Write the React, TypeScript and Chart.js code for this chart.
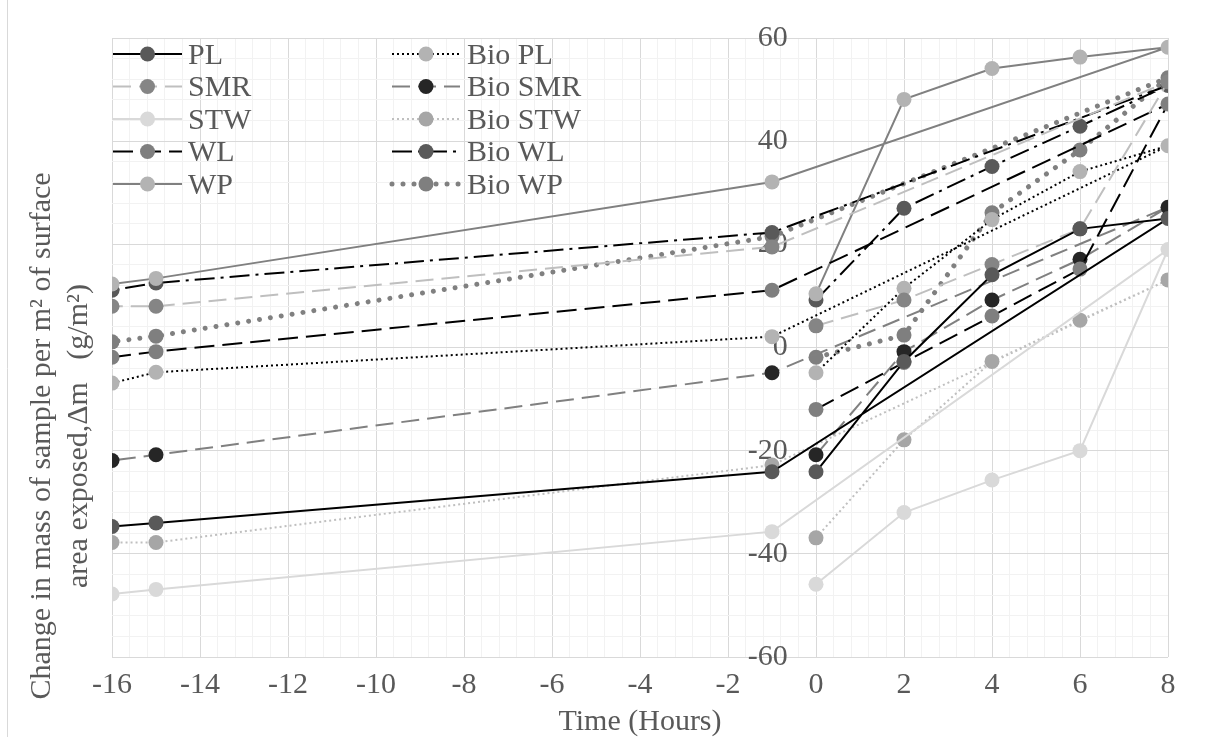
import React, { useEffect, useRef } from 'react';
import { Chart, registerables } from 'chart.js';

Chart.register(...registerables);

// ---- Data ----
// time points in the order the series were plotted
const hours = [0, 2, 4, 6, 8, -1, -15, -16];

const seriesNames = ['PL', 'SMR', 'STW', 'WL', 'WP', 'Bio PL', 'Bio SMR', 'Bio STW', 'Bio WL', 'Bio WP'];

const plValues = [-24.1, -2.7, 14.1, 23.0, 25.0, -24.1, -34.0, -34.7];
const smrValues = [4.2, 9.2, 16.1, 23.0, 51.5, 19.5, 8.0, 8.0];
const stwValues = [-45.9, -32.0, -25.7, -20.0, 19.0, -35.7, -46.9, -47.8];
const wlValues = [-12.0, -2.9, 6.1, 15.2, 47.2, 11.1, -0.8, -1.9];
const wpValues = [10.4, 48.1, 54.1, 56.3, 58.2, 32.1, 13.4, 12.3];
const bioPlValues = [-4.9, 11.5, 24.8, 34.1, 39.1, 2.1, -4.8, -6.9];
const bioSmrValues = [-20.8, -0.8, 9.2, 17.1, 27.2, -4.9, -20.8, -21.9];
const bioStwValues = [-36.9, -17.9, -2.7, 5.3, 13.1, -22.8, -37.8, -37.8];
const bioWlValues = [9.2, 27.0, 35.1, 42.9, 50.8, 22.3, 12.5, 11.1];
const bioWpValues = [-1.9, 2.4, 26.1, 38.3, 52.3, 21.5, 2.2, 1.1];

const allValues = [plValues, smrValues, stwValues, wlValues, wpValues, bioPlValues, bioSmrValues, bioStwValues, bioWlValues, bioWpValues];

const xMajorTicks = [-16, -14, -12, -10, -8, -6, -4, -2, 0, 2, 4, 6, 8];
const yMajorTicks = [-60, -40, -20, 0, 20, 40, 60];

const xTitle = 'Time (Hours)';
const yTitleLines = ['Change in mass of sample per m\u00B2 of surface', 'area exposed,\u0394m   (g/m\u00B2)'];

// ---- Styles ----
type Sty = { line: string; marker: string; width: number; dash: number[]; cap?: CanvasLineCap };
const styles: Sty[] = [
  { line: '#000000', marker: '#595959', width: 2, dash: [] },
  { line: '#bfbfbf', marker: '#858585', width: 2, dash: [18, 8] },
  { line: '#d9d9d9', marker: '#d9d9d9', width: 2, dash: [] },
  { line: '#000000', marker: '#7f7f7f', width: 2, dash: [20, 8] },
  { line: '#808080', marker: '#b3b3b3', width: 2, dash: [] },
  { line: '#000000', marker: '#b3b3b3', width: 2, dash: [2, 3] },
  { line: '#808080', marker: '#262626', width: 2, dash: [18, 8] },
  { line: '#bfbfbf', marker: '#a6a6a6', width: 2, dash: [2, 3] },
  { line: '#000000', marker: '#595959', width: 2, dash: [20, 6, 3, 6] },
  { line: '#808080', marker: '#7f7f7f', width: 5, dash: [0.01, 11], cap: 'round' },
];

const FONT_FAMILY = "'Liberation Serif', 'Times New Roman', serif";
const TEXT_COLOR = '#595959';
const FONT_SIZE = 30;
const W = 1206;
const H = 737;

const isMajor = (v: number, list: number[]) => list.some((t) => Math.abs(t - v) < 1e-6);

const decorPlugin = {
  id: 'decor',
  afterDraw(chart: any) {
    const ctx: CanvasRenderingContext2D = chart.ctx;
    const area = chart.chartArea;
    ctx.save();
    // outer border
    ctx.strokeStyle = '#d9d9d9';
    ctx.lineWidth = 1;
    ctx.beginPath();
    ctx.moveTo(7.5, 0);
    ctx.lineTo(7.5, H);
    ctx.stroke();

    // legend
    const cols = [
      { x0: 113, x1: 182, tx: 188 },
      { x0: 392, x1: 460, tx: 467 },
    ];
    ctx.font = `${FONT_SIZE}px ${FONT_FAMILY}`;
    ctx.textBaseline = 'middle';
    ctx.textAlign = 'left';
    seriesNames.forEach((name, i) => {
      const c = cols[i < 5 ? 0 : 1];
      const y = 54 + (i % 5) * 32.5;
      const s = styles[i];
      ctx.save();
      ctx.strokeStyle = s.line;
      ctx.lineWidth = s.width;
      ctx.lineCap = s.cap || 'butt';
      ctx.setLineDash(s.dash);
      ctx.beginPath();
      ctx.moveTo(c.x0, y);
      ctx.lineTo(c.x1, y);
      ctx.stroke();
      ctx.setLineDash([]);
      ctx.fillStyle = s.marker;
      ctx.beginPath();
      ctx.arc((c.x0 + c.x1) / 2, y, 7.5, 0, Math.PI * 2);
      ctx.fill();
      ctx.restore();
      ctx.fillStyle = TEXT_COLOR;
      ctx.fillText(name, c.tx, y + 2);
    });

    // x title
    ctx.fillStyle = TEXT_COLOR;
    ctx.textAlign = 'center';
    ctx.textBaseline = 'middle';
    ctx.fillText(xTitle, (area.left + area.right) / 2, 722);

    // y title
    ctx.save();
    ctx.translate(0, 436);
    ctx.rotate(-Math.PI / 2);
    ctx.textAlign = 'center';
    ctx.textBaseline = 'alphabetic';
    ctx.fillText(yTitleLines[0], 0, 50);
    ctx.fillText(yTitleLines[1], 0, 87);
    ctx.restore();
    ctx.restore();
  },
};

export default function App() {
  const ref = useRef<HTMLCanvasElement | null>(null);
  useEffect(() => {
    if (!ref.current) return;
    const datasets = seriesNames.map((name, i) => {
      const s = styles[i];
      return {
        label: name,
        data: hours.map((h, j) => ({ x: h, y: allValues[i][j] })),
        showLine: true,
        borderColor: s.line,
        borderWidth: s.width,
        borderDash: s.dash,
        borderCapStyle: s.cap || 'butt',
        pointRadius: 7.5,
        pointHoverRadius: 7.5,
        pointBackgroundColor: s.marker,
        pointBorderColor: s.marker,
        pointBorderWidth: 0,
        tension: 0,
        fill: false,
      };
    });
    const chart = new Chart(ref.current, {
      type: 'scatter',
      data: { datasets } as any,
      plugins: [decorPlugin],
      options: {
        responsive: false,
        animation: false,
        events: [],
        layout: { padding: { left: 112, right: 38, top: 38, bottom: 0 } },
        plugins: { legend: { display: false }, tooltip: { enabled: false } },
        scales: {
          x: {
            type: 'linear',
            position: 'bottom',
            min: -16,
            max: 8,
            ticks: {
              stepSize: 0.4,
              autoSkip: false,
              maxRotation: 0,
              minRotation: 0,
              padding: 10,
              color: TEXT_COLOR,
              font: { family: FONT_FAMILY, size: FONT_SIZE },
              callback: (v: any) => (isMajor(Number(v), xMajorTicks) ? String(Math.round(Number(v))) : ''),
            },
            grid: {
              drawTicks: false,
              lineWidth: 1,
              color: (c: any) => (isMajor(c.tick.value, xMajorTicks) ? '#d9d9d9' : '#f2f2f2'),
            },
            border: { display: false },
            afterFit: (s: any) => {
              s.height = 80;
            },
          },
          y: {
            type: 'linear',
            // labels sit just left of the x = 0 line
            position: { x: -0.64 } as any,
            min: -60,
            max: 60,
            ticks: {
              stepSize: 4,
              autoSkip: false,
              padding: 0,
              color: TEXT_COLOR,
              font: { family: FONT_FAMILY, size: FONT_SIZE },
              callback: (v: any) => (isMajor(Number(v), yMajorTicks) ? String(Math.round(Number(v))) : ''),
            },
            grid: {
              drawTicks: false,
              lineWidth: 1,
              color: (c: any) => (isMajor(c.tick.value, yMajorTicks) ? '#d9d9d9' : '#f2f2f2'),
            },
            border: { display: false },
          },
        },
      } as any,
    });
    return () => chart.destroy();
  }, []);
  return (
    <div style={{ position: 'fixed', left: 0, top: 0, width: W, height: H, background: '#ffffff' }}>
      <canvas ref={ref} width={W} height={H} style={{ width: W, height: H, display: 'block' }} />
    </div>
  );
}
